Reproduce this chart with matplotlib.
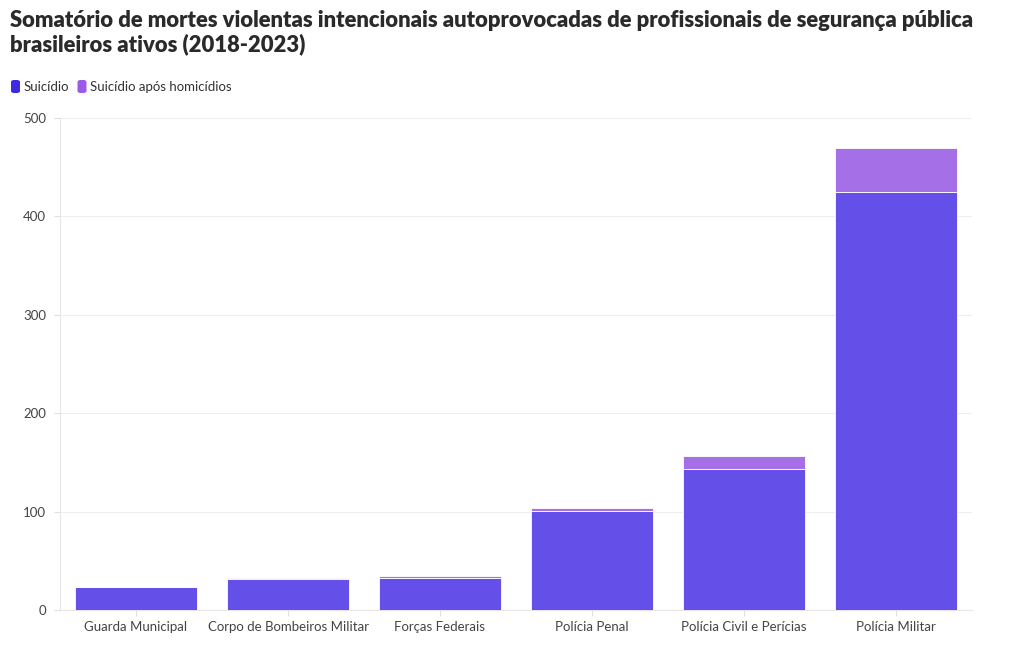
import matplotlib
matplotlib.use("Agg")
import matplotlib.pyplot as plt
from matplotlib.patches import FancyBboxPatch

categories = ["Guarda Municipal", "Corpo de Bombeiros Militar", "Forças Federais",
              "Polícia Penal", "Polícia Civil e Perícias", "Polícia Militar"]
suicidio = [23, 31, 33, 101, 143, 425]
suicidio_apos_homicidios = [0, 2, 2, 3, 13, 45]
series_names = ["Suicídio", "Suicídio após homicídios"]
yticks = [0, 100, 200, 300, 400, 500]
title = "Somatório de mortes violentas intencionais autoprovocadas de profissionais de segurança pública\nbrasileiros ativos (2018-2023)"

plt.rcParams['font.family'] = ['Lato', 'DejaVu Sans']

fig = plt.figure(figsize=(10.2, 6.5), dpi=100)
ax = fig.add_axes([60/1020, 40/650, 912/1020, 492/650])

c1 = "#6450E8"
c2 = "#A56FE8"
x = list(range(len(categories)))
ax.bar(x, suicidio, width=0.8, color=c1, edgecolor="white", linewidth=0.6, zorder=3)
ax.bar(x, suicidio_apos_homicidios, bottom=suicidio, width=0.8, color=c2,
       edgecolor="white", linewidth=0.6, zorder=3)

ax.set_xlim(-0.5, len(categories) - 0.5)
ax.set_ylim(0, 500)
ax.set_yticks(yticks)
ax.set_xticks(x)
ax.set_xticklabels(categories)
ax.grid(axis="y", color="#eeeeee", linewidth=0.8, zorder=0)
for s in ["top", "right"]:
    ax.spines[s].set_visible(False)
ax.spines["left"].set_color("#e6e6e6")
ax.spines["bottom"].set_color("#e6e6e6")
ax.tick_params(axis="both", colors="#e0e0e0", labelcolor="#444444", labelsize=9.5, length=4, width=0.8)
ax.tick_params(axis="y", pad=6)
ax.tick_params(axis="x", pad=4)

fig.text(10/1020, 1 - 10/650, title, ha="left", va="top", fontsize=15.8, fontweight="heavy",
         color="#2a2a2a", linespacing=1.15)

# legend
ly = 1 - 87/650
xpos = 11
for name, col in zip(series_names, ["#3D2BE3", "#9B5BE8"]):
    patch = FancyBboxPatch((xpos/1020, ly - 6/650), 9/1020, 13/650,
                           boxstyle="round,pad=0,rounding_size=0.003",
                           transform=fig.transFigure, facecolor=col, edgecolor="none")
    fig.patches.append(patch)
    t = fig.text((xpos + 13)/1020, ly, name, ha="left", va="center", fontsize=9.5, color="#333333")
    fig.canvas.draw()
    bb = t.get_window_extent()
    xpos = bb.x1 + 8

fig.savefig("out.png", dpi=100)
